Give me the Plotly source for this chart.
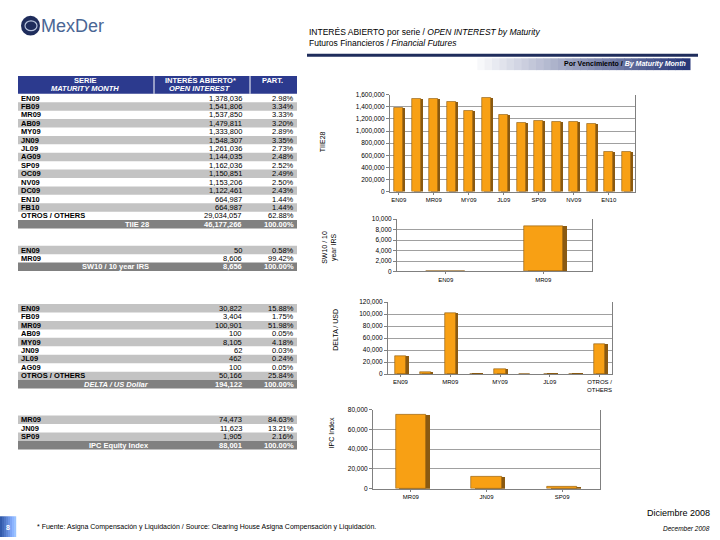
import plotly.graph_objects as go

W, H = 720, 540
FONT = "Liberation Sans, Arial, sans-serif"


def X(p):
    return p / W


def Y(p):
    return 1 - p / H


# ---------------- DATA ----------------
tiie_series = ["EN09", "FB09", "MR09", "AB09", "MY09", "JN09", "JL09", "AG09",
               "SP09", "OC09", "NV09", "DC09", "EN10", "FB10"]
tiie_values = [1378036, 1541806, 1537850, 1479811, 1333800, 1548307, 1261036,
               1144035, 1162036, 1150851, 1153206, 1122461, 664987, 664987]
tiie_part = ["2.98%", "3.34%", "3.33%", "3.20%", "2.89%", "3.35%", "2.73%",
             "2.48%", "2.52%", "2.49%", "2.50%", "2.43%", "1.44%", "1.44%"]
tiie_others_label = "OTROS / OTHERS"
tiie_others_value = 29034057
tiie_others_part = "62.88%"
tiie_total = 46177266
tiie_ticks = ["EN09", "MR09", "MY09", "JL09", "SP09", "NV09", "EN10"]

sw10_series = ["EN09", "MR09"]
sw10_values = [50, 8606]
sw10_part = ["0.58%", "99.42%"]
sw10_total = 8656

delta_series = ["EN09", "FB09", "MR09", "AB09", "MY09", "JN09", "JL09", "AG09",
                "OTROS / OTHERS"]
delta_values = [30822, 3404, 100901, 100, 8105, 62, 462, 100, 50166]
delta_part = ["15.88%", "1.75%", "51.98%", "0.05%", "4.18%", "0.03%", "0.24%",
              "0.05%", "25.84%"]
delta_total = 194122
delta_ticks = ["EN09", "MR09", "MY09", "JL09", "OTROS / OTHERS"]
delta_ticktext = ["EN09", "MR09", "MY09", "JL09", "OTROS /<br>OTHERS"]

ipc_series = ["MR09", "JN09", "SP09"]
ipc_values = [74473, 11623, 1905]
ipc_part = ["84.63%", "13.21%", "2.16%"]
ipc_total = 88001

# ---------------- STYLE ----------------
ORANGE = "#f8a014"
DARK = "#8a5a12"
GRAY_ROW = "#c3c3c3"
TOTAL_ROW = "#808080"
HEADER = "#2c3a8e"

shapes = []
annots = []


def rect(x0, y0, x1, y1, fill, line=None, lw=0):
    shapes.append(dict(type="rect", xref="paper", yref="paper",
                       x0=X(x0), x1=X(x1), y0=Y(y1), y1=Y(y0),
                       fillcolor=fill, line=dict(width=lw, color=line or fill),
                       layer="below"))


def text(x, y, s, size=7.5, color="black", xa="left", angle=0, ya="middle"):
    annots.append(dict(xref="paper", yref="paper", x=X(x), y=Y(y), text=s,
                       showarrow=False, xanchor=xa, yanchor=ya, textangle=angle,
                       font=dict(family=FONT, size=size, color=color)))


# ---------------- HEADER / LOGO ----------------
shapes.append(dict(type="circle", xref="paper", yref="paper",
                   x0=X(21), x1=X(40), y0=Y(32), y1=Y(12),
                   fillcolor="#1f2d5c", line=dict(width=0)))
shapes.append(dict(type="circle", xref="paper", yref="paper",
                   x0=X(25), x1=X(37), y0=Y(27), y1=Y(17),
                   fillcolor="rgba(0,0,0,0)", line=dict(width=1.2, color="#b8c4dc")))
text(39, 22, "MexDer", size=18, color="#4a6694")

text(307, 28, "INTERÉS ABIERTO por serie / <i>OPEN INTEREST by Maturity</i>", size=8.5)
text(307, 40, "Futuros Financieros / <i>Financial Futures</i>", size=8.5)
shapes.append(dict(type="line", xref="paper", yref="paper", x0=X(307), x1=X(698),
                   y0=Y(52), y1=Y(52), line=dict(color="#1f2d5c", width=3)))
# gradient band
n = 30
for i in range(n):
    t = i / (n - 1)
    r = int(255 + (40 - 255) * t)
    g = int(255 + (55 - 255) * t)
    b = int(255 + (120 - 255) * t)
    x0 = 470 + (690 - 470) * i / n
    x1 = 470 + (690 - 470) * (i + 1) / n + 0.5
    shapes.append(dict(type="rect", xref="paper", yref="paper", x0=X(x0), x1=X(x1),
                       y0=Y(67), y1=Y(55), fillcolor=f"rgb({r},{g},{b})",
                       line=dict(width=0), layer="below"))
text(688, 61, "<b>Por Vencimiento / </b><b><i><span style='color:white'>By Maturity Month</span></i></b>",
     size=7, xa="right")

# ---------------- TABLES ----------------
TL, TR = 18, 297
VAL_X, PART_X = 244, 296


def table(y0, rh, labels, values, parts, start_gray, total_label, total_value,
          total_italic=False):
    y = y0
    for i, (lab, v, p) in enumerate(zip(labels, values, parts)):
        gray = (i % 2 == 0) == start_gray
        if gray:
            rect(TL, y, TR, y + rh, GRAY_ROW)
        text(TL + 1, y + rh / 2, f"<b>{lab}</b>", size=7.5)
        text(VAL_X, y + rh / 2, f"{v:,}", size=7.5, xa="right")
        text(PART_X, y + rh / 2, p, size=7.5, xa="right")
        y += rh
    rect(TL, y, TR, y + rh, TOTAL_ROW)
    tl = f"<b><i>{total_label}</i></b>" if total_italic else f"<b>{total_label}</b>"
    text(151, y + rh / 2, tl, size=7.5, color="white", xa="right")
    text(VAL_X, y + rh / 2, f"<b>{total_value:,}</b>", size=7.5, color="white", xa="right")
    text(PART_X, y + rh / 2, "<b>100.00%</b>", size=7.5, color="white", xa="right")


# header of first table
rect(TL, 73, TR, 91, HEADER)
shapes.append(dict(type="line", xref="paper", yref="paper", x0=X(154), x1=X(154),
                   y0=Y(91), y1=Y(73), line=dict(color="white", width=1)))
shapes.append(dict(type="line", xref="paper", yref="paper", x0=X(250), x1=X(250),
                   y0=Y(91), y1=Y(73), line=dict(color="white", width=1)))
text(85, 77.5, "<b>SERIE</b>", color="white")
text(85, 86, "<b><i>MATURITY MONTH</i></b>", color="white")
text(200, 77.5, "<b>INTERÉS ABIERTO*</b>", color="white")
text(200, 86, "<b><i>OPEN INTEREST</i></b>", color="white")
text(272, 77.5, "<b>PART.</b>", color="white")
for a in annots[-5:]:
    a["xanchor"] = "center"

table(91, 8.53, tiie_series + [tiie_others_label], tiie_values + [tiie_others_value],
      tiie_part + [tiie_others_part], False, "TIIE 28", tiie_total)
table(245, 8.5, sw10_series, sw10_values, sw10_part, True,
      "SW10 / 10 year IRS", sw10_total)
table(304, 8.56, delta_series, delta_values, delta_part, True,
      "DELTA / US Dollar", delta_total, total_italic=True)
table(417, 8.6, ipc_series, ipc_values, ipc_part, True,
      "IPC Equity Index", ipc_total)

# ---------------- CHARTS ----------------
fig = go.Figure()

charts = [
    (tiie_series, tiie_values, (390, 635), (92, 190), 1600000, 200000, 0.5, 0.12,
     tiie_ticks, tiie_ticks),
    (sw10_series, sw10_values, (397, 592), (218, 271), 10000, 2000, 0.4, 0.04,
     sw10_series, sw10_series),
    (delta_series, delta_values, (388, 612), (302, 375), 120000, 20000, 0.45, 0.1,
     delta_ticks, delta_ticktext),
    (ipc_series, ipc_values, (373, 600), (411, 491), 80000, 20000, 0.4, 0.05,
     ipc_series, ipc_series),
]

layout_axes = {}
for k, (cats, vals, xd, yd, ymax, dt, w, sh, tv, tt) in enumerate(charts, start=1):
    xa = "x" if k == 1 else f"x{k}"
    ya = "y" if k == 1 else f"y{k}"
    fig.add_trace(go.Bar(x=cats, y=vals, xaxis=xa, yaxis=ya, width=w,
                         offset=-w / 2 + sh, marker=dict(color=DARK, line=dict(width=0)),
                         hoverinfo="skip", showlegend=False))
    fig.add_trace(go.Bar(x=cats, y=vals, xaxis=xa, yaxis=ya, width=w,
                         offset=-w / 2, marker=dict(color=ORANGE,
                                                     line=dict(width=0.6, color=DARK)),
                         showlegend=False))
    xkey = "xaxis" if k == 1 else f"xaxis{k}"
    ykey = "yaxis" if k == 1 else f"yaxis{k}"
    layout_axes[xkey] = dict(domain=[X(xd[0]), X(xd[1])], anchor=ya,
                             categoryorder="array", categoryarray=cats,
                             tickmode="array", tickvals=tv, ticktext=tt,
                             tickfont=dict(family=FONT, size=6, color="black"),
                             showline=True, linecolor="#808080", linewidth=1,
                             mirror=False, ticks="outside", ticklen=2,
                             tickcolor="#808080", showgrid=False)
    layout_axes[ykey] = dict(domain=[Y(yd[1]), Y(yd[0])], anchor=xa,
                             range=[0, ymax], dtick=dt, tickformat=",d",
                             tickfont=dict(family=FONT, size=6.5, color="black"),
                             showline=True, linecolor="#808080", linewidth=1,
                             mirror=True, ticks="outside", ticklen=3,
                             tickcolor="#808080", showgrid=True,
                             gridcolor="#a0a0a0", gridwidth=0.8, zeroline=False)

# axis titles (rotated)
text(322, 140, "TIIE28", size=7, angle=-90, xa="center")
text(330, 247, "SW10 / 10<br>year IRS", size=7, angle=-90, xa="center")
text(336, 330, "DELTA / USD", size=7, angle=-90, xa="center")
text(331, 435, "IPC Index", size=7, angle=-90, xa="center")

# ---------------- FOOTER ----------------
for i in range(8):
    c = 90 + i * 15
    shapes.append(dict(type="rect", xref="paper", yref="paper",
                       x0=X(i * 2), x1=X(i * 2 + 2.2), y0=Y(540), y1=Y(519),
                       fillcolor=f"rgb({c - 40},{c},{min(255, c + 80)})",
                       line=dict(width=0), layer="below"))
text(8, 530, "<b>8</b>", size=7, color="white", xa="center")
text(712, 516, "Diciembre 2008", size=9, xa="right")
text(35, 530, "* Fuente: Asigna Compensación y Liquidación / Source: Clearing House Asigna Compensación y Liquidación.",
     size=7)
text(712, 531, "<i>December 2008</i>", size=6.5, xa="right")

fig.update_layout(width=W, height=H, margin=dict(l=0, r=0, t=0, b=0),
                  paper_bgcolor="white", plot_bgcolor="white",
                  barmode="overlay", bargap=0, showlegend=False,
                  shapes=shapes, annotations=annots, **layout_axes)

fig.write_html("out.html", config={"displayModeBar": False},
               post_script="document.body.style.margin='0';document.body.style.overflow='hidden';")
